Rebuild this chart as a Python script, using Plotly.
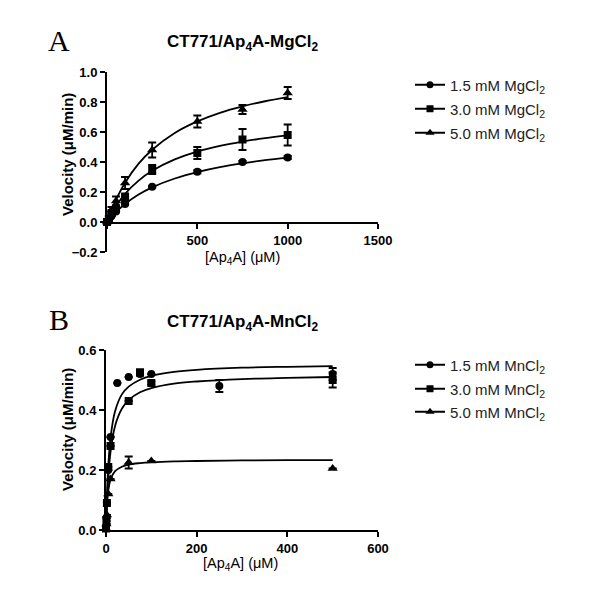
import plotly.graph_objects as go

# ── Panel A: MgCl2 ──
mg_x = [0, 10, 25, 50, 100, 250, 500, 750, 1000]
mg15 = [0, 0.01, 0.04, 0.07, 0.12, 0.235, 0.335, 0.40, 0.43]
mg15_err = [0, 0, 0, 0.005, 0.005, 0.005, 0.01, 0.008, 0.01]
mg30 = [0, 0.02, 0.06, 0.09, 0.16, 0.35, 0.46, 0.55, 0.58]
mg30_err = [0, 0.005, 0.01, 0.02, 0.03, 0.03, 0.04, 0.07, 0.07]
mg50 = [0, 0.03, 0.08, 0.14, 0.26, 0.48, 0.67, 0.75, 0.86]
mg50_err = [0, 0.01, 0.02, 0.03, 0.04, 0.05, 0.04, 0.03, 0.04]

# fitted curves
mg_fit_x = [0, 25, 50, 100, 175, 250, 375, 500, 625, 750, 875, 1000]
mg15_fit = [0, 0.035, 0.067, 0.12, 0.183, 0.231, 0.290, 0.333, 0.366, 0.391, 0.412, 0.429]
mg30_fit = [0, 0.058, 0.107, 0.188, 0.276, 0.341, 0.417, 0.469, 0.507, 0.536, 0.559, 0.577]
mg50_fit = [0, 0.080, 0.149, 0.262, 0.389, 0.482, 0.594, 0.671, 0.728, 0.771, 0.805, 0.833]

# ── Panel B: MnCl2 ──
mn_x = [0, 1, 2, 5, 10, 25, 50, 75, 100, 250, 500]
mn15 = [0.01, 0.04, 0.09, 0.20, 0.31, 0.49, 0.51, 0.52, 0.52, 0.48, 0.52]
mn15_err = [0, 0, 0, 0, 0, 0, 0, 0, 0, 0.02, 0.02]
mn30 = [0.005, 0.03, 0.09, 0.21, 0.28, None, 0.43, 0.525, 0.49, None, 0.50]
mn30_err = [0, 0, 0, 0, 0, 0, 0, 0.01, 0.005, 0, 0.025]
mn50 = [0.005, 0.02, 0.05, 0.12, 0.17, None, 0.225, None, 0.23, None, 0.205]
mn50_err = [0, 0, 0, 0, 0, 0, 0.02, 0, 0, 0, 0]

mn_fit_x = [0, 2, 5, 10, 20, 35, 50, 75, 100, 150, 200, 300, 400, 500]
mn15_fit = [0, 0.111, 0.213, 0.308, 0.396, 0.452, 0.478, 0.501, 0.514, 0.527, 0.534, 0.541, 0.544, 0.546]
mn30_fit = [0, 0.087, 0.173, 0.260, 0.347, 0.404, 0.433, 0.459, 0.473, 0.488, 0.495, 0.503, 0.507, 0.510]
mn50_fit = [0, 0.078, 0.131, 0.168, 0.196, 0.211, 0.218, 0.223, 0.226, 0.229, 0.230, 0.232, 0.233, 0.233]

SYMBOLS = ["circle", "square", "triangle-up"]
SIZES = [8, 8, 9]
LEVELS = ["1.5", "3.0", "5.0"]
FONT = "Liberation Sans, Arial, sans-serif"

# page puts the plot 8px in from the top-left corner
OFF = 8


def px(x):
    return (x - OFF) / 600


def py(y):
    return 1 - (y - OFF) / 600


fig = go.Figure()
legends = {}


def add_panel(xs, ys, errs, fit_x, fits, xa, ya, salt, leg_ys, first_leg):
    for i in range(3):
        fig.add_trace(go.Scatter(
            x=fit_x, y=fits[i], mode="lines", line=dict(color="black", width=1.8, shape="spline"),
            xaxis=xa, yaxis=ya, showlegend=False, hoverinfo="skip"))
        fig.add_trace(go.Scatter(
            x=xs, y=ys[i], mode="markers",
            marker=dict(symbol=SYMBOLS[i], color="black", size=SIZES[i]),
            error_y=dict(type="data", array=errs[i], color="black", thickness=1.8, width=4),
            xaxis=xa, yaxis=ya, showlegend=False, cliponaxis=False))
        # legend entry, each in its own legend box so the spacing can be set
        n = first_leg + i
        name = "legend" if n == 1 else f"legend{n}"
        legends[name] = dict(x=px(410), y=py(leg_ys[i]), xanchor="left", yanchor="middle",
                             font=dict(family=FONT, size=15, color="#222"),
                             bgcolor="rgba(0,0,0,0)")
        fig.add_trace(go.Scatter(
            x=[None], y=[None], mode="lines+markers",
            line=dict(color="black", width=1.8),
            marker=dict(symbol=SYMBOLS[i], color="black", size=SIZES[i] - 1),
            name=f"{LEVELS[i]} mM {salt}Cl<sub>2</sub>",
            xaxis=xa, yaxis=ya, legend=name))


add_panel(mg_x, [mg15, mg30, mg50], [mg15_err, mg30_err, mg50_err],
          mg_fit_x, [mg15_fit, mg30_fit, mg50_fit], "x", "y", "Mg", [85, 109, 133], 1)
add_panel(mn_x, [mn15, mn30, mn50], [mn15_err, mn30_err, mn50_err],
          mn_fit_x, [mn15_fit, mn30_fit, mn50_fit], "x2", "y2", "Mn", [365, 389, 412], 4)

axis_common = dict(
    showline=True, linecolor="black", linewidth=2, ticks="outside", tickwidth=2,
    ticklen=5, tickcolor="black", showgrid=False, zeroline=False, automargin=False,
    tickfont=dict(family=FONT, size=13, color="black", weight="bold"),
)

fig.update_layout(
    width=600, height=600,
    margin=dict(l=0, r=0, t=0, b=0),
    plot_bgcolor="white", paper_bgcolor="white",
    font=dict(family=FONT, color="black"),
    xaxis=dict(axis_common, domain=[px(107), px(378)], range=[0, 1500],
               tickvals=[0, 500, 1000, 1500], ticktext=["", "500", "1000", "1500"],
               anchor="free", position=py(223)),
    yaxis=dict(axis_common, domain=[py(252), py(72)], range=[-0.2, 1.0],
               tickvals=[-0.2, 0, 0.2, 0.4, 0.6, 0.8, 1.0], tickformat=".1f", anchor="x"),
    xaxis2=dict(axis_common, domain=[px(106), px(378)], range=[0, 600],
                tickvals=[0, 200, 400, 600], anchor="y2"),
    yaxis2=dict(axis_common, domain=[py(530), py(350)], range=[0, 0.6],
                tickvals=[0, 0.2, 0.4, 0.6], tickformat=".1f", anchor="x2"),
    **legends,
)


def label(text, x, y, size, family=FONT, angle=0):
    fig.add_annotation(text=text, x=px(x), y=py(y), xref="paper", yref="paper",
                       xanchor="center", yanchor="middle", showarrow=False, textangle=angle,
                       font=dict(family=family, size=size, color="black"))


serif = "Liberation Serif, Times New Roman, serif"
label("A", 59, 40, 30, serif)
label("B", 59, 319, 30, serif)

label("<b>CT771/Ap<sub>4</sub>A-MgCl<sub>2</sub></b>", 243, 43, 17)
label("<b>CT771/Ap<sub>4</sub>A-MnCl<sub>2</sub></b>", 243, 323, 17)

label("[Ap<sub>4</sub>A] (μM)", 242, 258, 14.5)
label("[Ap<sub>4</sub>A] (μM)", 240, 564, 14.5)

label("<b>Velocity (μM/min)</b>", 67, 155, 15, angle=-90)
label("<b>Velocity (μM/min)</b>", 67, 430, 15, angle=-90)

fig.write_html("out.html")
